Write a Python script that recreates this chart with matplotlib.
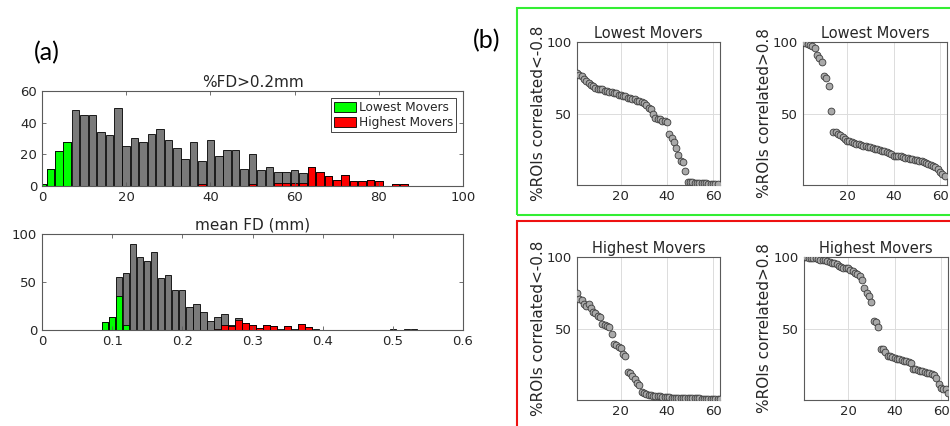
import numpy as np
import matplotlib.pyplot as plt
from matplotlib.patches import Patch, Rectangle

# %FD>0.2mm histogram, bin centres 0..86 step 2
fd_pct_centres = np.arange(0, 88, 2)
fd_pct_all = [1, 11, 22, 28, 48, 45, 45, 34, 32, 49, 25, 30, 28, 33, 36, 29, 24, 17, 28, 16,
              29, 19, 23, 23, 11, 20, 10, 12, 9, 9, 10, 8, 12, 9, 6, 4, 7, 3, 3, 4, 3, 0, 1, 1]
fd_pct_low = [1, 11, 22, 28] + [0] * 40
fd_pct_high = [0] * 19 + [1] + [0] * 5 + [1, 0, 0, 2, 2, 2, 2, 12, 9, 6, 4, 7, 3, 3, 4, 3, 0, 1, 1]

# mean FD histogram, bin centres 0.09..0.53 step 0.01
mfd_centres = np.round(np.arange(0.09, 0.535, 0.01), 2)
mfd_all = [8, 14, 55, 59, 90, 76, 72, 81, 54, 57, 42, 42, 24, 27, 19, 9, 13, 17, 5, 12, 7, 5,
           2, 5, 4, 1, 4, 1, 6, 3, 1, 0, 0, 0, 0, 0, 0, 0, 0, 0, 0, 1, 0, 1, 1]
mfd_low = [8, 14, 35, 5] + [0] * 41
mfd_high = [0] * 16 + [1, 5, 4, 10, 7, 5, 2, 5, 4, 0, 4, 0, 6, 3] + [0] * 15

# %ROIs correlated, per subject rank
low_neg = [78, 77, 76, 74, 73, 71, 70, 69, 68, 67, 67, 67, 66, 66, 65, 65, 64, 64, 63, 63,
           62, 62, 61, 61, 60, 60, 59, 59, 58, 57, 56, 54, 53, 50, 47, 46, 46, 45, 45, 44,
           36, 33, 30, 26, 21, 17, 16, 10, 2.3, 2, 1.8, 1.6, 1.5, 1.4, 1.3, 1.2, 1.1, 1.0,
           0.9, 0.8, 0.7, 0.5]
low_pos = [100, 99.5, 98.6, 97.6, 97, 96, 91, 89, 86, 76, 75, 69, 52, 37, 37, 36, 35, 33.5,
           32, 31, 30.5, 30, 29.5, 29, 28.5, 28, 27.5, 27, 26.8, 26.5, 26, 25.5, 25, 24.5,
           24, 23.5, 23, 22.5, 21.5, 20.6, 20.5, 20.2, 20, 19.6, 19.2, 18.8, 18.4, 18, 17.8,
           17.6, 17, 16.5, 16, 15.5, 15, 14, 13.2, 12.4, 11, 9, 7.5, 6]
high_neg = [75, 70.5, 70, 67, 66, 67, 64.4, 61.6, 60.5, 59, 58, 53, 52.8, 52, 51, 46.5, 39,
            38.4, 37, 36.5, 32, 30.7, 19.5, 18.6, 16.7, 14.6, 12, 10.2, 5.3, 4.7, 4, 3.5,
            3.2, 3, 2.8, 2.7, 2.5, 2.4, 2.3, 2.2, 1.8, 1.7, 1.6, 1.6, 1.5, 1.5, 1.4, 1.4,
            1.3, 1.3, 1.2, 1.2, 1.1, 1.1, 1.0, 1.0, 0.9, 0.9, 0.8, 0.8, 0.7, 0.6, 0.5]
high_pos = [100, 99.8, 99.6, 99.4, 99.2, 99, 98.6, 98.2, 98, 97.7, 97.2, 96.6, 96, 95.5, 95,
            94, 93, 92.6, 92.3, 92, 91, 90, 89, 88, 86.5, 84, 78, 75, 72.5, 68.6, 55, 54.6,
            51, 36, 35.6, 33.7, 31, 30.5, 30, 29.5, 29, 28.5, 28, 27.5, 27, 26.3, 25.6, 22,
            21.5, 21, 20.5, 20, 19.5, 19, 18.6, 18, 17.4, 15.6, 11, 8.6, 8, 7.7, 5]

plt.rcParams['font.family'] = 'DejaVu Sans'
ink = '#262626'
spine = '#5a5a5a'
gray = '#7a7a7a'

fig = plt.figure(figsize=(9.5, 4.26), dpi=100)


def style_axes(ax):
    for s in ax.spines.values():
        s.set_color(spine)
        s.set_linewidth(0.8)
    ax.tick_params(direction='in', top=True, right=True, labelsize=9.5,
                   colors=spine, labelcolor=ink, length=3, width=0.6)


# (a) histograms
ax1 = fig.add_axes([0.0442, 0.5634, 0.4432, 0.2230])
ax1.bar(fd_pct_centres, fd_pct_all, width=1.8, color=gray, edgecolor='black', linewidth=0.6)
ax1.bar(fd_pct_centres, fd_pct_low, width=1.8, color='#00ff00', edgecolor='black', linewidth=0.6)
ax1.bar(fd_pct_centres, fd_pct_high, width=1.8, color='#ff0000', edgecolor='black', linewidth=0.6)
ax1.set_xlim(0, 100)
ax1.set_ylim(0, 60)
ax1.set_xticks([0, 20, 40, 60, 80, 100])
ax1.set_yticks([0, 20, 40, 60])
ax1.set_title('%FD>0.2mm', fontsize=11, color=ink, pad=3)
style_axes(ax1)
handles = [Patch(facecolor='#00ff00', edgecolor='black', linewidth=0.6, label='Lowest Movers'),
           Patch(facecolor='#ff0000', edgecolor='black', linewidth=0.6, label='Highest Movers')]
leg = ax1.legend(handles=handles, loc='upper right', fontsize=8.7, fancybox=False,
                 framealpha=1, edgecolor=ink, borderpad=0.25, labelspacing=0.15,
                 handlelength=1.8, handleheight=0.9, handletextpad=0.2, borderaxespad=0.6)
leg.get_frame().set_linewidth(0.6)
for t in leg.get_texts():
    t.set_color(ink)

ax2 = fig.add_axes([0.0442, 0.2254, 0.4432, 0.2254])
ax2.bar(mfd_centres, mfd_all, width=0.009, color=gray, edgecolor='black', linewidth=0.6)
ax2.bar(mfd_centres, mfd_low, width=0.009, color='#00ff00', edgecolor='black', linewidth=0.6)
ax2.bar(mfd_centres, mfd_high, width=0.009, color='#ff0000', edgecolor='black', linewidth=0.6)
ax2.set_xlim(0, 0.6)
ax2.set_ylim(0, 100)
ax2.set_xticks([0, 0.1, 0.2, 0.3, 0.4, 0.5, 0.6])
ax2.set_xticklabels(['0', '0.1', '0.2', '0.3', '0.4', '0.5', '0.6'])
ax2.set_yticks([0, 50, 100])
ax2.set_title('mean FD (mm)', fontsize=11, color=ink, pad=3)
style_axes(ax2)

# (b) ranked scatter panels
panels = [
    ([0.6074, 0.5657, 0.1505, 0.3357], low_neg, 'Lowest Movers', '%ROIs correlated<-0.8'),
    ([0.8453, 0.5657, 0.1516, 0.3357], low_pos, 'Lowest Movers', '%ROIs correlated>0.8'),
    ([0.6074, 0.0610, 0.1505, 0.3357], high_neg, 'Highest Movers', '%ROIs correlated<-0.8'),
    ([0.8463, 0.0610, 0.1516, 0.3357], high_pos, 'Highest Movers', '%ROIs correlated>0.8'),
]
for rect, vals, title, ylab in panels:
    ax = fig.add_axes(rect)
    rank = np.arange(1, len(vals) + 1)
    ax.scatter(rank, vals, s=24, facecolor='#a9a9a9', edgecolor='#3a3a3a',
               linewidth=0.6, zorder=3)
    ax.set_xlim(1, 63)
    ax.set_ylim(0, 100)
    ax.set_xticks([20, 40, 60])
    ax.set_yticks([50, 100])
    ax.grid(True, color='#dcdcdc', linewidth=0.7)
    ax.set_axisbelow(True)
    ax.set_title(title, fontsize=10.5, color=ink, pad=3)
    ax.set_ylabel(ylab, fontsize=11, color=ink, labelpad=1)
    for s in ax.spines.values():
        s.set_color(spine)
        s.set_linewidth(0.8)
    ax.tick_params(direction='in', length=0, labelsize=9.5, labelcolor=ink)

# group frames around the scatter panels
fig.patches.append(Rectangle((517 / 950, 1 - 215 / 426), 440 / 950, 207 / 426,
                             transform=fig.transFigure, fill=False,
                             edgecolor='#33ee33', linewidth=1.5, clip_on=False))
fig.patches.append(Rectangle((517 / 950, -0.05), 440 / 950, 1 - 221 / 426 + 0.05,
                             transform=fig.transFigure, fill=False,
                             edgecolor='#ee1111', linewidth=1.5, clip_on=False))

fig.text(47 / 950, 1 - 53 / 426, '(a)', fontsize=18, family='Lato', ha='center', va='center')
fig.text(487 / 950, 1 - 41 / 426, '(b)', fontsize=18, family='Lato', ha='center', va='center')

fig.savefig('out.png', dpi=100)
